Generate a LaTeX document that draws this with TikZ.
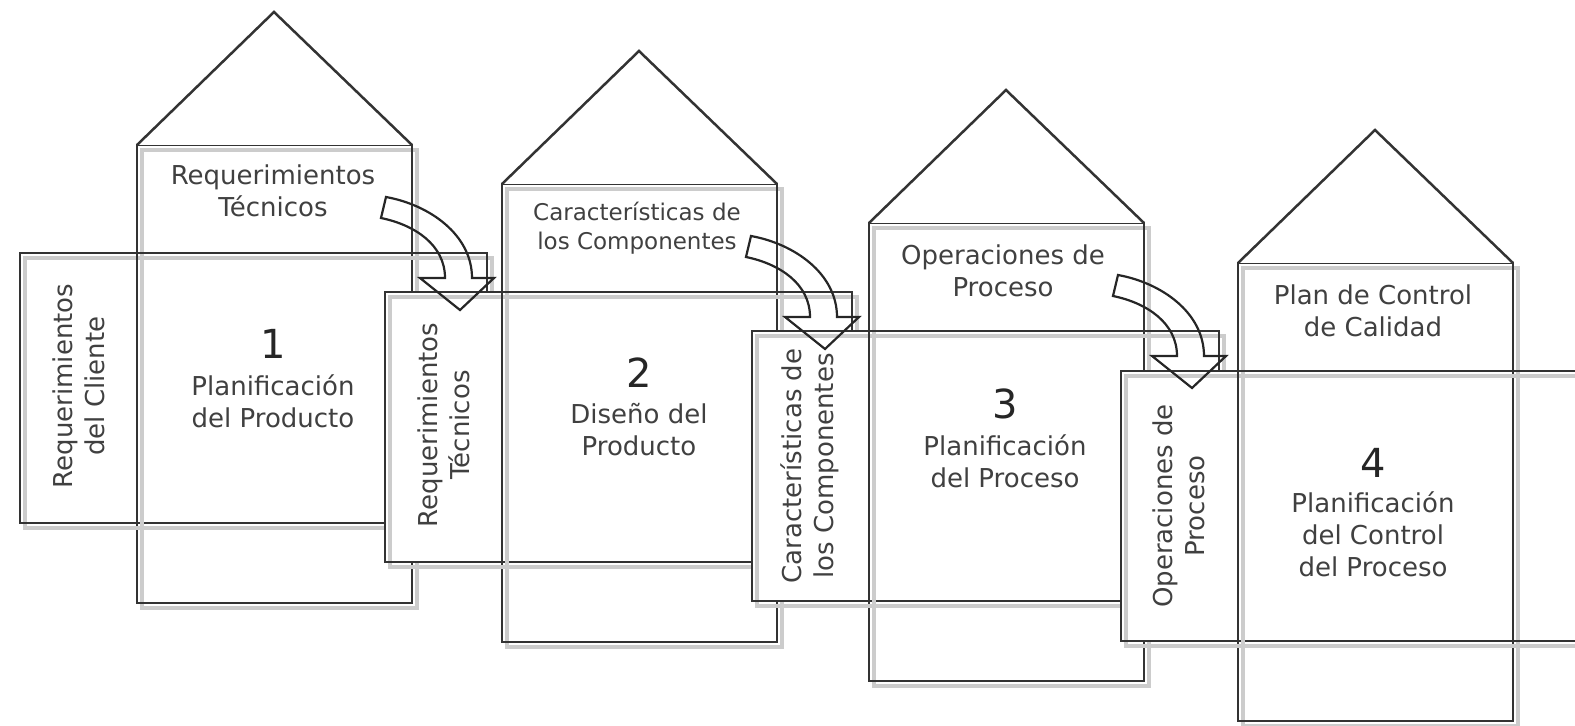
\documentclass[tikz,border=0pt]{standalone}
\usepackage{fontspec}
\setmainfont{DejaVu Sans}
\newcommand\housestage[2]{%
  \begin{scope}[shift={(#1,#2)}]
    \fill[white] (0,0) rectangle (275,458);
    \draw[shade] (5,5) rectangle (280,463);
    \draw[edge] (0,0) rectangle (275,458);
    \draw[edge, fill=white] (0,0) -- (137,-133) -- (275,0);
    \draw[shade] (-112,113) rectangle (355,383);
    \draw[edge] (-117,108) rectangle (350,378);
    \fill[white] (-117,108) rectangle (0,378);
    \draw[shade] (-112,113) rectangle (5,383);
    \draw[edge] (-117,108) rectangle (0,378);
  \end{scope}}
\newcommand\flowarrow[2]{%
  \draw[flow, shift={(#1,#2)}] (249,52) .. controls (293,60) and (335,90) .. (335,133)
    -- (357,133) -- (323,165) -- (283,133) -- (308,133)
    .. controls (308,100) and (278,80) .. (244,73) -- cycle;}
\begin{document}
\begin{tikzpicture}[x=0.5pt,y=-0.5pt,
  edge/.style={draw=black!80, line width=1.25pt, line join=miter},
  shade/.style={draw=black!20, line width=2pt},
  flow/.style={draw=black!85, line width=1.1pt, line join=miter},
  lbl/.style={text=black!75, align=center, inner sep=0pt, font=\fontsize{13}{16}\selectfont},
  lblsmall/.style={lbl, font=\fontsize{11.5}{14.5}\selectfont},
  numlbl/.style={text=black!85, inner sep=0pt, font=\fontsize{20}{24}\selectfont},
  sidelbl/.style={lbl, rotate=90}
]
\useasboundingbox (0,0) rectangle (1575,726);
\clip (0,0) rectangle (1575,726);

\housestage{137}{145}
\housestage{502}{184}
\housestage{869}{223}
\housestage{1238}{263}

\flowarrow{137}{145}
\flowarrow{502}{184}
\flowarrow{869}{223}

% stage 1
\node[lbl] (top1) at (273,191) {Requerimientos\\Técnicos};
\node[numlbl] (num1) at (273,344) {1};
\node[lbl] (body1) at (273,401) {Planificación\\del Producto};
\node[sidelbl] (side1) at (79,386) {Requerimientos\\del Cliente};
% stage 2
\node[lblsmall] (top2) at (637,228) {Características de\\los Componentes};
\node[numlbl] (num2) at (639,373) {2};
\node[lbl] (body2) at (639,430) {Diseño del\\Producto};
\node[sidelbl] (side2) at (444,425) {Requerimientos\\Técnicos};
% stage 3
\node[lbl] (top3) at (1003,271) {Operaciones de\\Proceso};
\node[numlbl] (num3) at (1005,404) {3};
\node[lbl] (body3) at (1005,461) {Planificación\\del Proceso};
\node[sidelbl] (side3) at (810,466) {Características de\\los Componentes};
% stage 4
\node[lbl] (top4) at (1373,311) {Plan de Control\\de Calidad};
\node[numlbl] (num4) at (1373,463) {4};
\node[lbl] (body4) at (1373,534) {Planificación\\del Control\\del Proceso};
\node[sidelbl] (side4) at (1179,506) {Operaciones de\\Proceso};
\end{tikzpicture}
\end{document}
